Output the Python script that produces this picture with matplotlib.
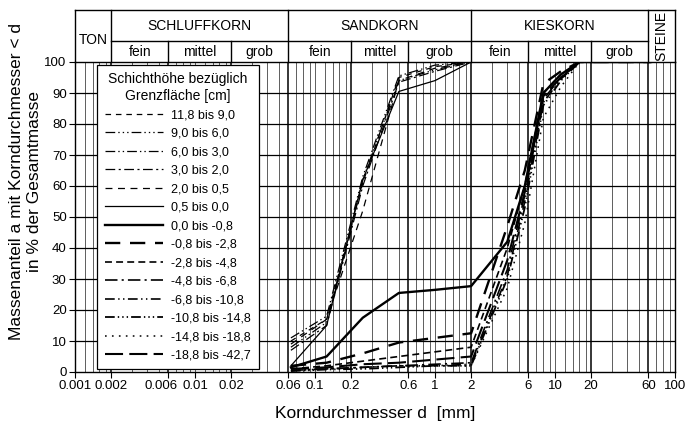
import matplotlib
matplotlib.use("Agg")
import matplotlib.pyplot as plt
from matplotlib.lines import Line2D
from matplotlib.transforms import ScaledTranslation

plt.rcParams["font.family"] = ["Liberation Sans", "DejaVu Sans"]
plt.rcParams["lines.scale_dashes"] = False

# sieve sizes [mm]
SIEVE_MM = [0.063, 0.125, 0.25, 0.5, 1.0, 2.0, 4.0, 5.6, 8.0, 11.2, 16.0, 31.5, 63.0]

LAYERS = [
    "11,8 bis 9,0", "9,0 bis 6,0", "6,0 bis 3,0", "3,0 bis 2,0", "2,0 bis 0,5",
    "0,5 bis 0,0", "0,0 bis -0,8", "-0,8 bis -2,8", "-2,8 bis -4,8",
    "-4,8 bis -6,8", "-6,8 bis -10,8", "-10,8 bis -14,8", "-14,8 bis -18,8",
    "-18,8 bis -42,7",
]

# passing percentages per layer (same order as LAYERS)
pass_11_8 = [10, 17, 61, 95, 98.5, 100, 100, 100, 100, 100, 100, 100, 100]
pass_9_0 = [8, 16, 62, 94, 97.5, 100, 100, 100, 100, 100, 100, 100, 100]
pass_6_0 = [11, 18, 63, 95.5, 99, 100, 100, 100, 100, 100, 100, 100, 100]
pass_3_0 = [7, 15, 60, 93.5, 97, 100, 100, 100, 100, 100, 100, 100, 100]
pass_2_0 = [9, 17, 52, 94, 98, 100, 100, 100, 100, 100, 100, 100, 100]
pass_0_5 = [2, 15, 62, 90.5, 94, 100, 100, 100, 100, 100, 100, 100, 100]
pass_0_0 = [1.5, 5, 17.5, 25.5, 26.5, 27.7, 42, 60, 90, 96, 100, 100, 100]
pass_m0_8 = [2, 3, 6, 9.5, 11, 12.5, 47, 65, 93, 97, 100, 100, 100]
pass_m2_8 = [1, 2, 3.5, 5, 6.5, 8, 40, 60, 90, 96, 100, 100, 100]
pass_m4_8 = [0.5, 1, 1.5, 2, 2.5, 3, 33, 57, 88, 95, 100, 100, 100]
pass_m6_8 = [0.5, 1, 1.5, 2, 2, 2.5, 31, 55, 87, 94.5, 100, 100, 100]
pass_m10_8 = [0.3, 0.8, 1, 1.5, 2, 2, 30, 53, 86, 94, 100, 100, 100]
pass_m14_8 = [0.5, 1, 1.5, 2, 2, 2, 27, 48, 82, 92, 100, 100, 100]
pass_m18_8 = [1, 1.5, 2.5, 3, 4, 5, 36, 58, 89, 95, 100, 100, 100]

CURVES = [pass_11_8, pass_9_0, pass_6_0, pass_3_0, pass_2_0, pass_0_5, pass_0_0,
          pass_m0_8, pass_m2_8, pass_m4_8, pass_m6_8, pass_m10_8, pass_m14_8,
          pass_m18_8]

# (linewidth, dash pattern or None for solid)
STYLES = [
    (0.9, (4, 3.5)),
    (0.9, (7, 2.2, 1, 2.2, 1, 2.2, 1, 2.2)),
    (0.9, (7, 2.2, 1, 2.2, 1, 2.2)),
    (0.9, (7, 2.5, 1.5, 2.5)),
    (0.9, (5, 4)),
    (0.9, None),
    (1.7, None),
    (1.7, (11, 7)),
    (1.2, (5, 3)),
    (1.2, (9, 3, 1.5, 3)),
    (1.2, (7, 2.5, 1, 2.5, 1, 2.5)),
    (1.3, (7, 2.2, 1, 2.2, 1, 2.2, 1, 2.2)),
    (1.1, (1.2, 3.8)),
    (1.5, (13, 4.5)),
]

XTICKS = [0.001, 0.002, 0.006, 0.01, 0.02, 0.06, 0.1, 0.2, 0.6, 1, 2, 6, 10, 20, 60, 100]
XTICK_LABELS = ["0.001", "0.002", "0.006", "0.01", "0.02", "0.06", "0.1", "0.2",
                "0.6", "1", "2", "6", "10", "20", "60", "100"]

MAIN_CLASSES = [("SCHLUFFKORN", 0.002, 0.06), ("SANDKORN", 0.06, 2), ("KIESKORN", 2, 60)]
SUB_BOUNDS = [0.002, 0.006, 0.02, 0.06, 0.2, 0.6, 2, 6, 20, 60]
SUB_NAMES = ["fein", "mittel", "grob"] * 3

W, H = 693, 426
fig = plt.figure(figsize=(W / 100, H / 100), dpi=100)

x0, x1 = 75, 675
y_top, y_bot, h_top = 62, 372, 10
ax = fig.add_axes([x0 / W, 1 - y_bot / H, (x1 - x0) / W, (y_bot - y_top) / H])
hax = fig.add_axes([x0 / W, 1 - y_top / H, (x1 - x0) / W, (y_top - h_top) / H])

ax.set_xscale("log")
ax.set_xlim(0.001, 100)
ax.set_ylim(0, 100)

# grid
for e in range(-3, 2):
    for m in (1, 1.2, 1.4, 1.6, 1.8, 2, 3, 4, 5, 6, 7, 8, 9):
        v = m * 10.0 ** e
        thick = any(abs(v / b - 1) < 1e-6 for b in SUB_BOUNDS)
        ax.axvline(v, color="black" if thick else "#444444",
                   lw=1.1 if thick else 0.6, zorder=1)
for yv in range(10, 100, 10):
    ax.axhline(yv, color="black", lw=0.9, zorder=1)

for vals, (lw, dash) in zip(CURVES, STYLES):
    line, = ax.plot(SIEVE_MM, vals, color="black", lw=lw, zorder=3)
    if dash is not None:
        line.set_dashes(dash)

ax.set_xticks(XTICKS)
ax.set_xticklabels(XTICK_LABELS)
ax.xaxis.set_minor_locator(matplotlib.ticker.NullLocator())
ax.set_yticks(range(0, 101, 10))
ax.tick_params(direction="out", length=4, width=0.8, labelsize=9.5, pad=2)
for s in ax.spines.values():
    s.set_linewidth(1.0)
# nudge crowded labels apart a little
for lbl in ax.get_xticklabels():
    if lbl.get_text() == "0.006":
        lbl.set_transform(lbl.get_transform() + ScaledTranslation(-5 / 72, 0, fig.dpi_scale_trans))

ax.set_xlabel("Korndurchmesser d  [mm]", fontsize=12.5, labelpad=10)
fig.text(26 / W, 1 - 181 / H,
         "Massenanteil a mit Korndurchmesser < d\nin % der Gesamtmasse",
         rotation=90, ha="center", va="center", fontsize=12.5, linespacing=1.25)

handles = []
for (lw, dash) in STYLES:
    h = Line2D([0], [0], color="black", lw=lw)
    if dash is not None:
        h.set_dashes(dash)
    handles.append(h)
leg = ax.legend(handles, LAYERS, title="Schichthöhe bezüglich\nGrenzfläche [cm]",
                loc="upper left", bbox_to_anchor=((97 - x0) / (x1 - x0), (y_bot - 65) / (y_bot - y_top)),
                fontsize=9, title_fontsize=10, handlelength=4.7, handletextpad=0.65,
                labelspacing=0.52, borderpad=0.6, fancybox=False, framealpha=1,
                edgecolor="black", borderaxespad=0, alignment="center")
leg.get_title().set_multialignment("center")
leg.get_frame().set_linewidth(0.9)
leg.set_zorder(5)

# header table
hax.set_xscale("log")
hax.set_xlim(0.001, 100)
hax.set_ylim(0, 2)
hax.axis("off")
mid = 0.82
lk = dict(color="black", lw=1.0, clip_on=False)
hax.plot([0.001, 100], [2, 2], **lk)
hax.plot([0.002, 60], [mid, mid], **lk)
for b in (0.001, 0.002, 0.06, 2, 60, 100):
    hax.plot([b, b], [0, 2], **lk)
for b in (0.006, 0.02, 0.2, 0.6, 6, 20):
    hax.plot([b, b], [0, mid], **lk)

hax.text((0.001 * 0.002) ** 0.5, 0.85, "TON", ha="center", va="center", fontsize=10)
hax.text((60 * 100) ** 0.5, 1.0, "STEINE", ha="center", va="center", fontsize=10,
         rotation=90)
for name, a, b in MAIN_CLASSES:
    hax.text((a * b) ** 0.5, 1.38, name, ha="center", va="center", fontsize=10)
for i, name in enumerate(SUB_NAMES):
    a, b = SUB_BOUNDS[i], SUB_BOUNDS[i + 1]
    hax.text((a * b) ** 0.5, 0.4, name, ha="center", va="center", fontsize=10)

fig.savefig("out.png", dpi=100)
